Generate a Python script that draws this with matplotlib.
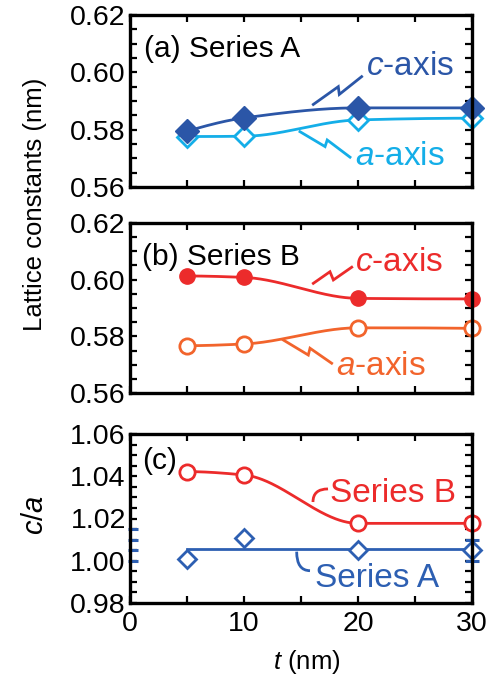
import numpy as np
import matplotlib
matplotlib.use("Agg")
from matplotlib import pyplot as plt
from matplotlib.path import Path
from matplotlib.patches import PathPatch
from matplotlib.ticker import MultipleLocator, FormatStrFormatter

plt.rcParams['font.family'] = ['Liberation Sans', 'DejaVu Sans']
plt.rcParams['mathtext.fontset'] = 'custom'
plt.rcParams['mathtext.it'] = 'Liberation Sans:italic'
plt.rcParams['mathtext.rm'] = 'Liberation Sans'

# film thickness (nm)
t = np.array([5, 10, 20, 30])

# lattice constants (nm)
c_A = np.array([0.5795, 0.5841, 0.5876, 0.5876])
a_A = np.array([0.5776, 0.5777, 0.5834, 0.5840])
c_B = np.array([0.6013, 0.6008, 0.5934, 0.5932])
a_B = np.array([0.5767, 0.5773, 0.5830, 0.5828])

# c/a ratio
ca_B = np.array([1.0422, 1.0406, 1.0177, 1.0177])
ca_A = np.array([1.0007, 1.0106, 1.0051, 1.0051])
capsA_left = [1.000, 1.005, 1.010, 1.015]
capsA_right = [1.000, 1.010]

DBLUE = '#2b56a7'
LBLUE = '#14aee8'
RED = '#ec2b2b'
ORANGE = '#f2642c'
ABLUE = '#2d5fb2'


def pchip(x, y, xn):
    # monotone cubic through the points, for the smooth guide lines
    x = np.asarray(x, float)
    y = np.asarray(y, float)
    h = np.diff(x)
    d = np.diff(y) / h
    m = np.zeros_like(y)
    for k in range(1, len(x) - 1):
        if d[k - 1] * d[k] <= 0:
            m[k] = 0.0
        else:
            w1 = 2 * h[k] + h[k - 1]
            w2 = h[k] + 2 * h[k - 1]
            m[k] = (w1 + w2) / (w1 / d[k - 1] + w2 / d[k])

    def end(h0, h1, d0, d1):
        s = ((2 * h0 + h1) * d0 - h0 * d1) / (h0 + h1)
        if np.sign(s) != np.sign(d0):
            return 0.0
        if np.sign(d0) != np.sign(d1) and abs(s) > abs(3 * d0):
            return 3 * d0
        return s

    m[0] = end(h[0], h[1], d[0], d[1])
    m[-1] = end(h[-1], h[-2], d[-1], d[-2])
    idx = np.clip(np.searchsorted(x, xn) - 1, 0, len(h) - 1)
    s = (xn - x[idx]) / h[idx]
    h00 = 2 * s**3 - 3 * s**2 + 1
    h10 = s**3 - 2 * s**2 + s
    h01 = -2 * s**3 + 3 * s**2
    h11 = s**3 - s**2
    return (h00 * y[idx] + h10 * h[idx] * m[idx] + h01 * y[idx + 1]
            + h11 * h[idx] * m[idx + 1])


def style(ax, ylo, yhi, major, minor):
    ax.set_xlim(0, 30)
    ax.set_ylim(ylo, yhi)
    ax.xaxis.set_major_locator(MultipleLocator(10))
    ax.xaxis.set_minor_locator(MultipleLocator(5))
    ax.yaxis.set_major_locator(MultipleLocator(major))
    ax.yaxis.set_minor_locator(MultipleLocator(minor))
    ax.yaxis.set_major_formatter(FormatStrFormatter('%.2f'))
    ax.tick_params(which='both', direction='in', top=True, right=True,
                   length=5, width=1.6, labelsize=20.5, pad=3)
    for sp in ax.spines.values():
        sp.set_linewidth(2.4)


def squiggle(ax, xs, ys, color):
    ax.plot(xs, ys, color=color, lw=2, solid_joinstyle='miter')


def hook(ax, p0, pc, p1, color):
    path = Path([p0, pc, p1], [Path.MOVETO, Path.CURVE3, Path.CURVE3])
    ax.add_patch(PathPatch(path, fill=False, edgecolor=color, lw=2))


fig = plt.figure(figsize=(4.87, 6.84), dpi=100)
L, W = 130 / 487, 342 / 487
ax1 = fig.add_axes([L, 1 - 187 / 684, W, 172 / 684])
ax2 = fig.add_axes([L, 1 - 393 / 684, W, 170 / 684])
ax3 = fig.add_axes([L, 1 - 603 / 684, W, 169 / 684])

xs = np.linspace(5, 30, 300)
ms_d = 12
ms_o = 11

# (a) Series A
style(ax1, 0.56, 0.62, 0.02, 0.005)
ax1.plot(xs, pchip(t, a_A, xs), color=LBLUE, lw=2)
ax1.plot(xs, pchip(t, c_A, xs), color=DBLUE, lw=2)
ax1.plot(t, a_A, 'D', ms=ms_d - 2, mfc='white', mec=LBLUE, mew=2, clip_on=False)
ax1.plot(t, c_A, 'D', ms=ms_d, mfc=DBLUE, mec=DBLUE, mew=1, clip_on=False)
ax1.text(0.041, 0.80, '(a) Series A', transform=ax1.transAxes,
         fontsize=21.5, va='center', ha='left')
squiggle(ax1, [16.08, 18.27, 18.36, 20.32], [0.5888, 0.5950, 0.5923, 0.5985], DBLUE)
ax1.text(20.7, 0.6019, r'$c$-axis', color=DBLUE, fontsize=24, va='center', ha='left')
squiggle(ax1, [14.91, 17.11, 17.30, 19.30], [0.5793, 0.5741, 0.5764, 0.5704], LBLUE)
ax1.text(19.7, 0.5705, r'$a$-axis', color=LBLUE, fontsize=24, va='center', ha='left')
ax1.tick_params(labelbottom=False)

# (b) Series B
style(ax2, 0.56, 0.62, 0.02, 0.005)
ax2.plot(xs, pchip(t, c_B, xs), color=RED, lw=2)
ax2.plot(xs, pchip(t, a_B, xs), color=ORANGE, lw=2)
ax2.plot(t, c_B, 'o', ms=ms_o, mfc=RED, mec=RED, mew=1, clip_on=False)
ax2.plot(t, a_B, 'o', ms=ms_o, mfc='white', mec=ORANGE, mew=2, clip_on=False)
ax2.text(0.035, 0.80, '(b) Series B', transform=ax2.transAxes,
         fontsize=21.5, va='center', ha='left')
squiggle(ax2, [16.08, 17.54, 17.84, 19.45], [0.5987, 0.6028, 0.5999, 0.6044], RED)
ax2.text(19.7, 0.6062, r'$c$-axis', color=RED, fontsize=24, va='center', ha='left')
squiggle(ax2, [13.45, 15.64, 15.79, 17.69], [0.5787, 0.5734, 0.5758, 0.5705], ORANGE)
ax2.text(18.1, 0.5692, r'$a$-axis', color=ORANGE, fontsize=24, va='center', ha='left')
ax2.tick_params(labelbottom=False)

# (c) c/a ratio
style(ax3, 0.98, 1.06, 0.02, 0.005)
ax3.xaxis.set_major_formatter(FormatStrFormatter('%d'))
ax3.plot(xs, pchip(t, ca_B, xs), color=RED, lw=2)
ax3.plot(t, ca_B, 'o', ms=ms_o, mfc='white', mec=RED, mew=2, clip_on=False)
fitA = np.mean(ca_A)
ax3.plot([t[0], t[-1]], [fitA, fitA], color=ABLUE, lw=2)
ax3.plot(t, ca_A, 'D', ms=ms_d - 2.5, mfc='white', mec=ABLUE, mew=2, clip_on=False)
ax3.plot([0.25] * len(capsA_left), capsA_left, '_', ms=7, mew=2.2, color=ABLUE, clip_on=False)
ax3.plot([30] * len(capsA_right), capsA_right, '_', ms=10, mew=2.2, color=ABLUE, clip_on=False)
ax3.text(0.035, 0.84, '(c)', transform=ax3.transAxes,
         fontsize=21.5, va='center', ha='left')
hook(ax3, (16.05, 1.0278), (16.05, 1.0340), (17.37, 1.0340), RED)
ax3.text(17.5, 1.0316, 'Series B', color=RED, fontsize=24, va='center', ha='left')
hook(ax3, (14.62, 1.0043), (14.62, 0.9953), (15.79, 0.9953), ABLUE)
ax3.text(16.2, 0.9918, 'Series A', color=ABLUE, fontsize=24, va='center', ha='left')
ax3.tick_params(axis='x', pad=6)

fig.text(35 / 487, 1 - 204 / 684, 'Lattice constants (nm)', rotation=90,
         fontsize=18.5, ha='center', va='center')
fig.text(35 / 487, 1 - 515 / 684, r'$c/a$', rotation=90,
         fontsize=21, ha='center', va='center')
fig.text(307 / 487, 1 - 662 / 684, r'$t$ (nm)', fontsize=18.5,
         ha='center', va='center')

fig.savefig('out.png', dpi=100)
